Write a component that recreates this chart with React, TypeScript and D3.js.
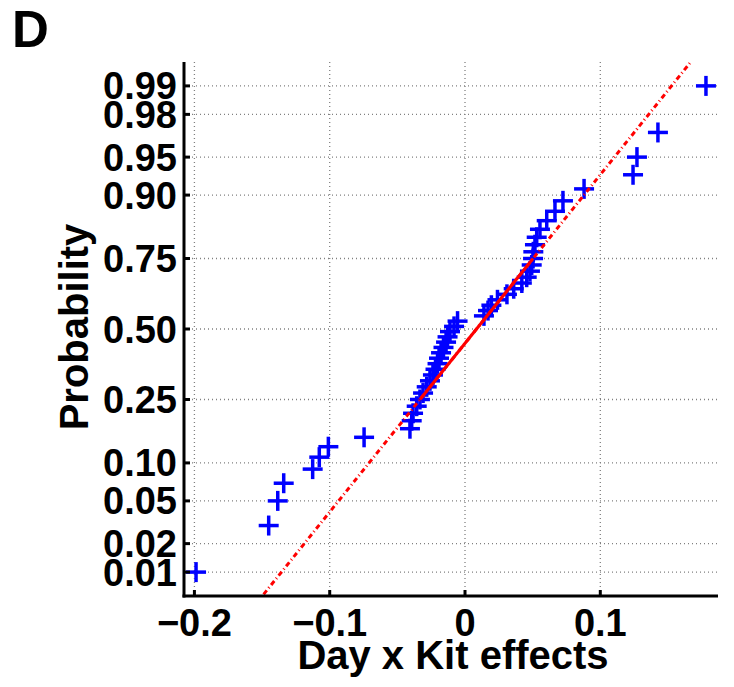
import React from "react";
import * as d3 from "d3";

const WIDTH = 734;
const HEIGHT = 687;

// sorted Day x Kit effects
const effects = [
  -0.1988, -0.1451, -0.1384, -0.134, -0.1126, -0.1077, -0.101, -0.0746,
  -0.0407, -0.0394, -0.0384, -0.0357, -0.0333, -0.031, -0.0283, -0.0259,
  -0.0237, -0.0218, -0.0203, -0.0192, -0.0177, -0.0159, -0.014, -0.0129,
  -0.0111, -0.0081, -0.0055, 0.014, 0.017, 0.0195, 0.024, 0.031, 0.036,
  0.042, 0.0456, 0.048, 0.0493, 0.0503, 0.0505, 0.0517, 0.053, 0.0554,
  0.0604, 0.0665, 0.0724, 0.088, 0.1242, 0.1271, 0.1426, 0.1781,
];

const probTicks = [0.01, 0.02, 0.05, 0.1, 0.25, 0.5, 0.75, 0.9, 0.95, 0.98, 0.99];
const probLabels = ["0.01", "0.02", "0.05", "0.10", "0.25", "0.50", "0.75", "0.90", "0.95", "0.98", "0.99"];
const xTicks = [-0.2, -0.1, 0, 0.1];
const xLabels = ["\u22120.2", "\u22120.1", "0", "0.1"];

// inverse normal cdf (Acklam)
function probit(p: number): number {
  const a = [-39.69683028665376, 220.9460984245205, -275.9285104469687, 138.357751867269, -30.66479806614716, 2.506628277459239];
  const b = [-54.47609879822406, 161.5858368580409, -155.6989798598866, 66.80131188771972, -13.28068155288572];
  const c = [-0.007784894002430293, -0.3223964580411365, -2.400758277161838, -2.549732539343734, 4.374664141464968, 2.938163982698783];
  const d = [0.007784695709041462, 0.3224671290700398, 2.445134137142996, 3.754408661907416];
  const pl = 0.02425;
  if (p < pl) {
    const q = Math.sqrt(-2 * Math.log(p));
    return (((((c[0] * q + c[1]) * q + c[2]) * q + c[3]) * q + c[4]) * q + c[5]) /
      ((((d[0] * q + d[1]) * q + d[2]) * q + d[3]) * q + 1);
  }
  if (p > 1 - pl) {
    const q = Math.sqrt(-2 * Math.log(1 - p));
    return -(((((c[0] * q + c[1]) * q + c[2]) * q + c[3]) * q + c[4]) * q + c[5]) /
      ((((d[0] * q + d[1]) * q + d[2]) * q + d[3]) * q + 1);
  }
  const q = p - 0.5;
  const r = q * q;
  return (((((a[0] * r + a[1]) * r + a[2]) * r + a[3]) * r + a[4]) * r + a[5]) * q /
    (((((b[0] * r + b[1]) * r + b[2]) * r + b[3]) * r + b[4]) * r + 1);
}

const LEFT = 184;
const RIGHT = 718;
const TOP = 62;
const BOTTOM = 596;
const ZMAX = 2.555;

const FONT = "'Liberation Sans', Arial, Helvetica, sans-serif";

export default function App() {
  const x = d3.scaleLinear().domain([-0.2077, 0.187]).range([LEFT, RIGHT]);
  const y = d3.scaleLinear().domain([-ZMAX, ZMAX]).range([BOTTOM, TOP]);

  const n = effects.length;
  const pts = effects.map((v, i) => ({ v, z: probit((i + 0.5) / n) }));

  // MATLAB-style quartiles for n=50: x(13), x(38)
  const q1 = effects[12];
  const q3 = effects[37];
  const z1 = probit(0.25);
  const z3 = probit(0.75);
  const slope = (z3 - z1) / (q3 - q1);
  const zAt = (v: number) => z1 + (v - q1) * slope;
  const xMin = d3.min(effects) as number;
  const xMax = d3.max(effects) as number;

  const m = 10; // marker half size

  return (
    <svg
      width={WIDTH}
      height={HEIGHT}
      style={{ position: "absolute", left: 0, top: 0, background: "#fff" }}
    >
      <defs>
        <clipPath id="plot">
          <rect x={LEFT} y={TOP - 12} width={RIGHT - LEFT + 14} height={BOTTOM - TOP + 12} />
        </clipPath>
        <clipPath id="plotLine">
          <rect x={LEFT} y={TOP} width={RIGHT - LEFT} height={BOTTOM - TOP} />
        </clipPath>
      </defs>

      <text x={12} y={47} style={{ fontFamily: FONT, fontWeight: "bold", fontSize: 51 }}>
        D
      </text>

      {/* grid */}
      <g stroke="#808080" strokeWidth={1.3} strokeDasharray="1,3">
        {probTicks.map((p) => (
          <line key={p} x1={LEFT} x2={RIGHT} y1={y(probit(p))} y2={y(probit(p))} />
        ))}
        {xTicks.map((t) => (
          <line key={t} x1={x(t)} x2={x(t)} y1={TOP} y2={BOTTOM} />
        ))}
      </g>

      {/* markers */}
      <g clipPath="url(#plot)" stroke="#0000ff" strokeWidth={3.5}>
        {pts.map((d, i) => (
          <g key={i} transform={`translate(${x(d.v)},${y(d.z)})`}>
            <line x1={-m} x2={m} y1={0} y2={0} />
            <line x1={0} x2={0} y1={-m} y2={m} />
          </g>
        ))}
      </g>

      {/* fit lines */}
      <g clipPath="url(#plotLine)" stroke="#ff0000" strokeWidth={3} fill="none">
        <line
          x1={x(xMin)}
          y1={y(zAt(xMin))}
          x2={x(xMax)}
          y2={y(zAt(xMax))}
          strokeDasharray="5,3,1,3"
        />
        <line x1={x(q1)} y1={y(z1)} x2={x(q3)} y2={y(z3)} />
      </g>

      {/* axes */}
      <g stroke="#000">
        <line x1={LEFT} x2={LEFT} y1={TOP} y2={BOTTOM + 1.5} strokeWidth={3} />
        <line x1={LEFT - 1.5} x2={RIGHT} y1={BOTTOM} y2={BOTTOM} strokeWidth={3} />
        {probTicks.map((p) => (
          <line key={p} x1={LEFT} x2={LEFT + 6} y1={y(probit(p))} y2={y(probit(p))} strokeWidth={3} />
        ))}
        {xTicks.map((t) => (
          <line key={t} x1={x(t)} x2={x(t)} y1={BOTTOM} y2={BOTTOM - 6} strokeWidth={3} />
        ))}
      </g>

      <g style={{ fontFamily: FONT, fontWeight: "bold", fontSize: 38 }}>
        {probTicks.map((p, i) => (
          <text key={p} x={LEFT - 7} y={y(probit(p)) + 13.5} textAnchor="end">
            {probLabels[i]}
          </text>
        ))}
        {xTicks.map((t, i) => (
          <text key={t} x={x(t)} y={636} textAnchor="middle">
            {xLabels[i]}
          </text>
        ))}
      </g>

      <text
        x={(LEFT + RIGHT) / 2 + 2}
        y={669}
        textAnchor="middle"
        style={{ fontFamily: FONT, fontWeight: "bold", fontSize: 40 }}
      >
        Day x Kit effects
      </text>
      <text
        transform={`translate(88,${(TOP + BOTTOM) / 2 - 2}) rotate(-90)`}
        textAnchor="middle"
        style={{ fontFamily: FONT, fontWeight: "bold", fontSize: 40 }}
      >
        Probability
      </text>
    </svg>
  );
}
